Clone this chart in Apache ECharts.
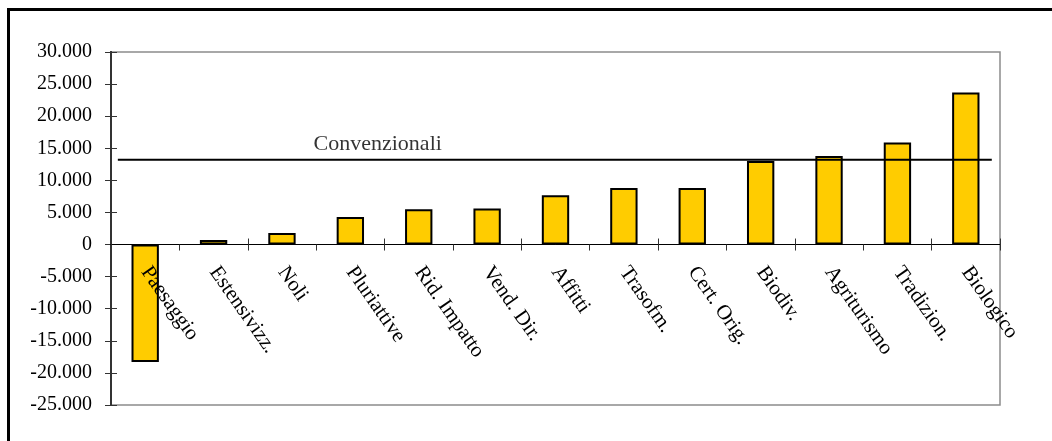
<!DOCTYPE html>
<html>
<head>
<meta charset="utf-8">
<script src="https://cdn.jsdelivr.net/npm/echarts@6/dist/echarts.min.js"></script>
<style>
  html, body { margin: 0; padding: 0; background: #fff; }
  #frame { position: absolute; left: 7px; top: 8px; right: 0; bottom: 0;
           border-top: 3px solid #000; border-left: 3px solid #000; }
  #chart { position: absolute; left: 0; top: 0; width: 1052px; height: 441px; }
</style>
</head>
<body>
<div id="frame"></div>
<div id="chart"></div>
<script>
// Categories and values (differences vs. conventional farms)
const categories = ['Paesaggio', 'Estensivizz.', 'Noli', 'Pluriattive', 'Rid. Impatto', 'Vend. Dir.',
  'Affitti', 'Trasofm.', 'Cert. Orig.', 'Biodiv.', 'Agriturismo', 'Tradizion.', 'Biologico'];
const values = [-18300, 700, 1800, 4300, 5500, 5600, 7700, 8800, 8800, 13000, 13800, 15900, 23700];

// Reference level for conventional farms
const refLabel = 'Convenzionali';
const refValue = 13200;
// Extent of the reference line along the category band (in category units)
const refSpan = [0.1, 12.88];
const refLabelPos = 3.9;

const yTicks = { min: -25000, max: 30000, interval: 5000 };

const W = 1052, H = 441;
const gridBox = { left: 111, top: 52, right: 52, bottom: 36 };
const gridH = H - gridBox.top - gridBox.bottom;
// Category axis sits on the zero line, labels included
const zeroOffset = -gridH * (0 - yTicks.min) / (yTicks.max - yTicks.min);

const serif = '"Liberation Serif", "DejaVu Serif", serif';
const fmt = v => {
  const s = Math.abs(v).toString().replace(/\B(?=(\d{3})+(?!\d))/g, '.');
  return (v < 0 ? '-' : '') + s;
};

const yScale = { type: 'value', min: yTicks.min, max: yTicks.max, interval: yTicks.interval,
  splitLine: { show: false } };

const chart = echarts.init(document.getElementById('chart'), null, { renderer: 'canvas', width: W, height: H });
chart.setOption({
  backgroundColor: 'transparent',
  animation: false,
  grid: Object.assign({}, gridBox, {
    containLabel: false, outerBoundsMode: 'none',
    show: true, borderColor: '#8c8c8c', borderWidth: 1.5, backgroundColor: 'transparent'
  }),
  xAxis: [
    {
      type: 'category', data: categories, position: 'bottom', offset: zeroOffset, z: 10,
      axisLine: { onZero: false, lineStyle: { color: '#000', width: 1 } },
      axisTick: { show: true, length: 6, lineStyle: { color: '#333' } },
      axisLabel: {
        rotate: -55, margin: 24, interval: 0,
        fontFamily: serif, fontSize: 21, color: '#000'
      },
      splitLine: { show: false }
    },
    {
      // upper half of the crossing tick marks on the zero line
      type: 'category', data: categories, position: 'bottom', offset: zeroOffset, z: 10,
      axisLine: { onZero: false, lineStyle: { color: '#000', width: 1 } },
      axisTick: { show: true, inside: true, length: 6, lineStyle: { color: '#333' } },
      axisLabel: { show: false },
      splitLine: { show: false }
    },
    {
      type: 'value', min: 0, max: categories.length, show: false,
      axisLine: { onZero: false }
    }
  ],
  yAxis: [
    Object.assign({}, yScale, {
      position: 'left',
      axisLine: { show: true, onZero: false, lineStyle: { color: '#333', width: 2 } },
      axisTick: { show: true, length: 6, lineStyle: { color: '#333', width: 1 } },
      axisLabel: { margin: 19, formatter: fmt, fontFamily: serif, fontSize: 20, color: '#000' }
    }),
    Object.assign({}, yScale, {
      // inner half of the crossing tick marks on the value axis
      position: 'left',
      axisLine: { show: true, onZero: false, lineStyle: { color: '#333', width: 2 } },
      axisTick: { show: true, inside: true, length: 6, lineStyle: { color: '#333', width: 1 } },
      axisLabel: { show: false }
    })
  ],
  series: [
    {
      type: 'bar', data: values, xAxisIndex: 0, yAxisIndex: 0, barWidth: '40%',
      itemStyle: { color: '#FFCC00', borderColor: '#000', borderWidth: 2 }
    },
    {
      type: 'line', xAxisIndex: 2, yAxisIndex: 0, symbol: 'none',
      data: [[refSpan[0], refValue], [refSpan[1], refValue]],
      lineStyle: { color: '#000', width: 2 }, z: 5
    },
    {
      type: 'scatter', xAxisIndex: 2, yAxisIndex: 0, symbolSize: 1,
      itemStyle: { color: 'rgba(0,0,0,0)' },
      data: [[refLabelPos, refValue]],
      label: {
        show: true, position: 'top', distance: 4, formatter: refLabel,
        fontFamily: serif, fontSize: 22, color: '#000'
      }
    }
  ]
});
</script>
</body>
</html>
